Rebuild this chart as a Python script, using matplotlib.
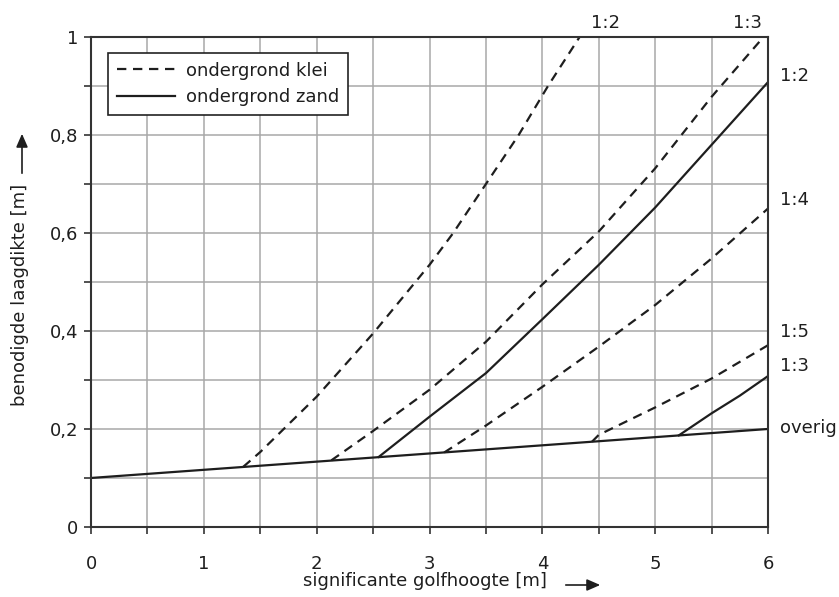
import matplotlib
matplotlib.use("Agg")
import matplotlib.pyplot as plt
from matplotlib.lines import Line2D

plt.rcParams['font.family'] = ['DejaVu Sans']

# ---- data ----
overig_x = [0, 6]
overig_y = [0.10, 0.20]

klei_12_x = [1.35, 1.5, 2.0, 2.5, 3.0, 3.21, 3.50, 3.79, 4.05, 4.33]
klei_12_y = [0.123, 0.153, 0.266, 0.395, 0.535, 0.60, 0.70, 0.80, 0.90, 1.00]

klei_13_x = [2.13, 2.5, 3.0, 3.5, 4.0, 4.5, 5.0, 5.5, 5.96]
klei_13_y = [0.136, 0.196, 0.280, 0.378, 0.495, 0.603, 0.732, 0.878, 1.00]

zand_12_x = [2.55, 3.0, 3.5, 4.0, 4.5, 5.0, 5.5, 6.0]
zand_12_y = [0.143, 0.225, 0.314, 0.424, 0.535, 0.652, 0.780, 0.908]

klei_14_x = [3.13, 3.5, 4.0, 4.5, 5.0, 5.5, 6.0]
klei_14_y = [0.152, 0.207, 0.286, 0.368, 0.453, 0.548, 0.650]

klei_15_x = [4.44, 4.5, 5.0, 5.5, 6.0]
klei_15_y = [0.174, 0.188, 0.244, 0.303, 0.371]

zand_13_x = [5.21, 5.5, 5.75, 6.0]
zand_13_y = [0.187, 0.232, 0.268, 0.308]

x_ticks = [0, 1, 2, 3, 4, 5, 6]
x_ticklabels = ['0', '1', '2', '3', '4', '5', '6']
y_ticks = [0, 0.2, 0.4, 0.6, 0.8, 1.0]
y_ticklabels = ['0', '0,2', '0,4', '0,6', '0,8', '1']

legend_labels = ['ondergrond klei', 'ondergrond zand']
xlabel = 'significante golfhoogte [m]'
ylabel = 'benodigde laagdikte [m]'

right_labels = [('1:2', 0.920), ('1:4', 0.667), ('1:5', 0.398), ('1:3', 0.329), ('overig', 0.202)]
top_labels = [('1:2', 4.56), ('1:3', 5.82)]

# ---- figure ----
fig = plt.figure(figsize=(8.39, 5.97), dpi=100)
ax = fig.add_axes([0.1085, 0.1173, 0.8069, 0.8207])

ink = '#1e1e1e'
lw = 1.6
dash = (0, (4.2, 3.0))
fs = 13

ax.plot(overig_x, overig_y, color=ink, lw=lw, solid_capstyle='butt')
for xs, ys in [(klei_12_x, klei_12_y), (klei_13_x, klei_13_y),
               (klei_14_x, klei_14_y), (klei_15_x, klei_15_y)]:
    ax.plot(xs, ys, color=ink, lw=lw, linestyle=dash)
for xs, ys in [(zand_12_x, zand_12_y), (zand_13_x, zand_13_y)]:
    ax.plot(xs, ys, color=ink, lw=lw)

ax.set_xlim(0, 6)
ax.set_ylim(0, 1)

ax.set_xticks([i * 0.5 for i in range(13)], minor=True)
ax.set_yticks([i * 0.1 for i in range(11)], minor=True)
ax.set_xticks(x_ticks)
ax.set_xticklabels(x_ticklabels)
ax.set_yticks(y_ticks)
ax.set_yticklabels(y_ticklabels)
ax.grid(True, which='both', color='#a8a8a8', lw=1.1)
ax.set_axisbelow(True)

ax.tick_params(axis='both', which='both', direction='out', length=5, width=1.2,
               color='#333333', labelsize=fs, labelcolor=ink)
ax.tick_params(axis='x', which='both', pad=15)
ax.tick_params(axis='y', which='both', pad=4)
ax.tick_params(top=False, right=False)

for s in ax.spines.values():
    s.set_color('#333333')
    s.set_linewidth(1.5)

# legend
handles = [Line2D([0], [0], color=ink, lw=lw, linestyle=dash),
           Line2D([0], [0], color=ink, lw=lw)]
leg = ax.legend(handles, legend_labels, loc='upper left', bbox_to_anchor=(0.025, 0.968),
                frameon=True, fancybox=False, edgecolor='#222222', framealpha=1,
                fontsize=fs, handlelength=3.2, handletextpad=0.6,
                borderpad=0.5, labelspacing=0.48, borderaxespad=0)
leg.get_frame().set_linewidth(1.2)
for t in leg.get_texts():
    t.set_color(ink)

# curve labels
for txt, yv in right_labels:
    ax.text(6.11, yv, txt, fontsize=fs, color=ink, ha='left', va='center', clip_on=False)
for txt, xv in top_labels:
    ax.text(xv, 1.029, txt, fontsize=fs, color=ink, ha='center', va='center', clip_on=False)

# axis labels with arrows
fig.text(425 / 839, 1 - 581 / 597, xlabel, fontsize=fs, color=ink, ha='center', va='center')
fig.text(20 / 839, 1 - 295 / 597, ylabel, fontsize=fs, color=ink, ha='center', va='center',
         rotation=90)
fig.add_artist(matplotlib.patches.FancyArrowPatch(
    (563 / 839, 1 - 585 / 597), (603 / 839, 1 - 585 / 597), transform=fig.transFigure,
    arrowstyle='-|>,head_length=8,head_width=3.5', mutation_scale=1, color=ink, lw=1.2))
fig.add_artist(matplotlib.patches.FancyArrowPatch(
    (22 / 839, 1 - 176 / 597), (22 / 839, 1 - 131 / 597), transform=fig.transFigure,
    arrowstyle='-|>,head_length=8,head_width=3.5', mutation_scale=1, color=ink, lw=1.2))

fig.savefig('out.png', dpi=100)
